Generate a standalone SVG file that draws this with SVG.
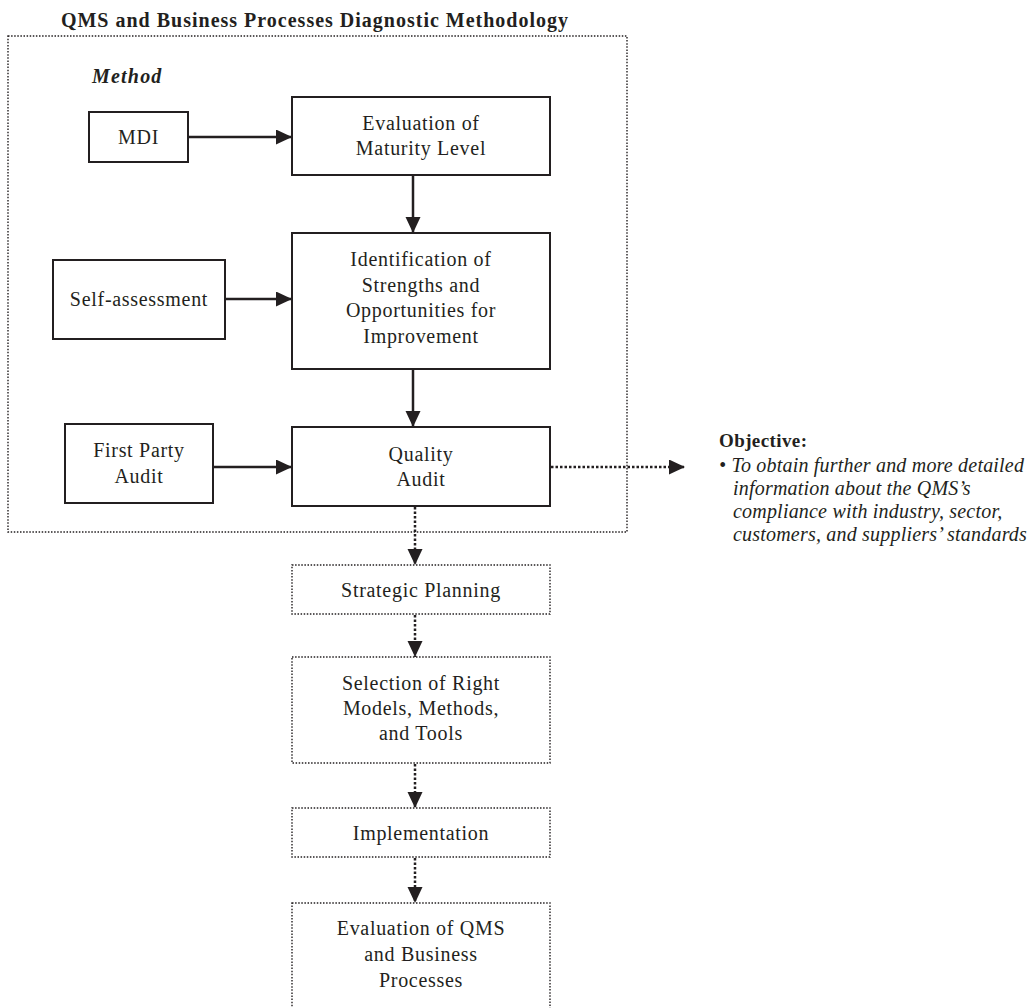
<svg xmlns="http://www.w3.org/2000/svg" width="1028" height="1008" viewBox="0 0 1028 1008">
  <defs>
    <style>
      text { font-family: "Liberation Serif", "Times New Roman", serif; fill: #231f20; }
      .lbl { font-size: 20px; letter-spacing: 0.7px; text-anchor: middle; }
      .title { font-size: 20px; font-weight: bold; letter-spacing: 1px; text-anchor: middle; }
      .head { font-size: 20px; font-weight: bold; font-style: italic; letter-spacing: 1.2px; }
      .obj { font-size: 19px; font-weight: bold; letter-spacing: 0.4px; }
      .note { font-size: 20px; font-style: italic; letter-spacing: 0.2px; }
      .box { fill: #ffffff; stroke: #231f20; stroke-width: 2; }
      .dbox { fill: #ffffff; stroke: #231f20; stroke-width: 1.4; stroke-dasharray: 1.5 1.6; }
      .frame { fill: none; stroke: #231f20; stroke-width: 1.4; stroke-dasharray: 1.5 1.6; }
      .solid { stroke: #231f20; stroke-width: 2.5; fill: none; marker-end: url(#head); }
      .dotted { stroke: #231f20; stroke-width: 2.5; fill: none; stroke-dasharray: 2.5 2; marker-end: url(#head); }
    </style>
    <marker id="head" markerUnits="userSpaceOnUse" markerWidth="17" markerHeight="16" refX="16" refY="7.5" orient="auto">
      <path d="M0,0 L16,7.5 L0,15 Z" fill="#231f20"/>
    </marker>
  </defs>

  <rect width="1028" height="1008" fill="#ffffff"/>

  <text class="title" x="315" y="27">QMS and Business Processes Diagnostic Methodology</text>

  <!-- method frame -->
  <g id="method-frame">
    <rect class="frame" x="8" y="36" width="619" height="496"/>
    <text class="head" x="92" y="83">Method</text>
  </g>

  <!-- connectors -->
  <g id="connectors">
    <line class="solid" x1="188" y1="137" x2="292" y2="137"/>
    <line class="solid" x1="413" y1="175" x2="413" y2="233"/>
    <line class="solid" x1="225" y1="299" x2="292" y2="299"/>
    <line class="solid" x1="413" y1="369" x2="413" y2="427"/>
    <line class="solid" x1="213" y1="467" x2="292" y2="467"/>
    <line class="dotted" x1="551" y1="467" x2="685" y2="467"/>
    <line class="dotted" x1="415" y1="507" x2="415" y2="565"/>
    <line class="dotted" x1="415" y1="615" x2="415" y2="657"/>
    <line class="dotted" x1="415" y1="764" x2="415" y2="808"/>
    <line class="dotted" x1="415" y1="858" x2="415" y2="903"/>
  </g>

  <g id="mdi">
    <rect class="box" x="89" y="112" width="99" height="50"/>
    <text class="lbl" x="138.5" y="144">MDI</text>
  </g>

  <g id="maturity">
    <rect class="box" x="292" y="97" width="258" height="78"/>
    <text class="lbl" x="421" y="130">Evaluation of</text>
    <text class="lbl" x="421" y="155">Maturity Level</text>
  </g>

  <g id="self-assessment">
    <rect class="box" x="53" y="260" width="172" height="79"/>
    <text class="lbl" x="139" y="306">Self-assessment</text>
  </g>

  <g id="identification">
    <rect class="box" x="292" y="233" width="258" height="136"/>
    <text class="lbl" x="421" y="266">Identification of</text>
    <text class="lbl" x="421" y="291.5">Strengths and</text>
    <text class="lbl" x="421" y="317">Opportunities for</text>
    <text class="lbl" x="421" y="342.5">Improvement</text>
  </g>

  <g id="first-party">
    <rect class="box" x="65" y="424" width="148" height="79"/>
    <text class="lbl" x="139" y="457">First Party</text>
    <text class="lbl" x="139" y="483">Audit</text>
  </g>

  <g id="quality-audit">
    <rect class="box" x="292" y="427" width="258" height="79"/>
    <text class="lbl" x="421" y="461">Quality</text>
    <text class="lbl" x="421" y="486">Audit</text>
  </g>

  <g id="objective">
    <text class="obj" x="719" y="447">Objective:</text>
    <text class="note" x="719" y="472">• To obtain further and more detailed</text>
    <text class="note" x="733" y="495">information about the QMS’s</text>
    <text class="note" x="733" y="518">compliance with industry, sector,</text>
    <text class="note" x="733" y="541">customers, and suppliers’ standards</text>
  </g>

  <g id="strategic-planning">
    <rect class="dbox" x="292" y="565" width="258" height="49"/>
    <text class="lbl" x="421" y="597">Strategic Planning</text>
  </g>

  <g id="selection">
    <rect class="dbox" x="292" y="657" width="258" height="106"/>
    <text class="lbl" x="421" y="690">Selection of Right</text>
    <text class="lbl" x="421" y="715">Models, Methods,</text>
    <text class="lbl" x="421" y="740">and Tools</text>
  </g>

  <g id="implementation">
    <rect class="dbox" x="292" y="808" width="258" height="49"/>
    <text class="lbl" x="421" y="840">Implementation</text>
  </g>

  <g id="evaluation-qms">
    <rect class="dbox" x="292" y="903" width="258" height="130"/>
    <text class="lbl" x="421" y="935">Evaluation of QMS</text>
    <text class="lbl" x="421" y="961">and Business</text>
    <text class="lbl" x="421" y="987">Processes</text>
  </g>
</svg>
